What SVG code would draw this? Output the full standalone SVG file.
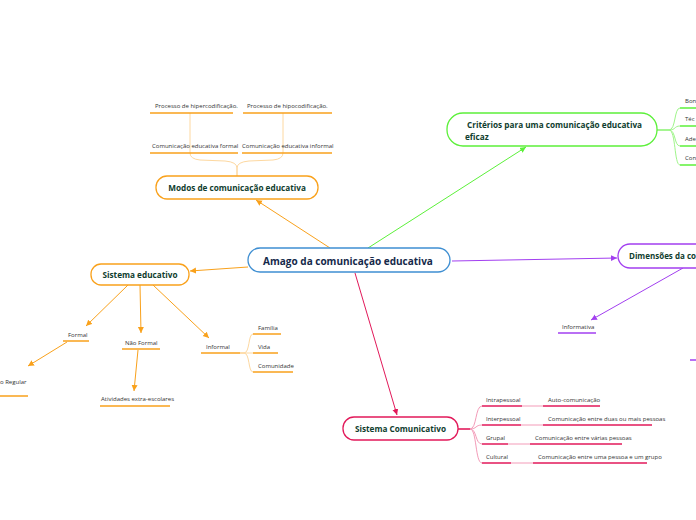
<svg xmlns="http://www.w3.org/2000/svg" width="696" height="520" viewBox="0 0 696 520">
<defs>
<style>
.t{font-family:"Open Sans","Noto Sans","DejaVu Sans",sans-serif;font-size:6px;fill:#333}
.n{font-family:"Open Sans","Noto Sans","DejaVu Sans",sans-serif;font-size:8.2px;font-weight:bold;fill:#0f3d2e}
.c{font-family:"Open Sans","Noto Sans","DejaVu Sans",sans-serif;font-size:10px;font-weight:bold;fill:#15294a}
.or{stroke:#f9a11b;fill:none}
.lo{stroke:#fdd8a0;fill:none;stroke-width:1}
.gr{stroke:#5cf03a;fill:none}
.pu{stroke:#a23ff0;fill:none}
.cr{stroke:#e2195a;fill:none}
.pk{stroke:#f39bb8;fill:none;stroke-width:1}
.lg{stroke:#9ff58a;fill:none;stroke-width:1}
.box{fill:#fff;stroke-width:1.3}
</style>
<marker id="ao" markerWidth="8" markerHeight="8" refX="6" refY="3" orient="auto" markerUnits="userSpaceOnUse"><path d="M0,0 L6,3 L0,6 z" fill="#f9a11b"/></marker>
<marker id="ag" markerWidth="8" markerHeight="8" refX="6" refY="3" orient="auto" markerUnits="userSpaceOnUse"><path d="M0,0 L6,3 L0,6 z" fill="#5cf03a"/></marker>
<marker id="ap" markerWidth="8" markerHeight="8" refX="6" refY="3" orient="auto" markerUnits="userSpaceOnUse"><path d="M0,0 L6,3 L0,6 z" fill="#a23ff0"/></marker>
<marker id="ac" markerWidth="8" markerHeight="8" refX="6" refY="3" orient="auto" markerUnits="userSpaceOnUse"><path d="M0,0 L6,3 L0,6 z" fill="#e2195a"/></marker>
</defs>
<rect width="696" height="520" fill="#fff"/>
<g id="connectors">
<path class="or" d="M330,248 L256,200" marker-end="url(#ao)"/>
<path class="gr" d="M368,248 L526,147" marker-end="url(#ag)"/>
<path class="pu" d="M452,261 L617,258" marker-end="url(#ap)"/>
<path class="pu" d="M683,268 L591,320" marker-end="url(#ap)"/>
<path class="or" d="M248,267 L190,271" marker-end="url(#ao)"/>
<path class="cr" d="M355,273 L397,415" marker-end="url(#ac)"/>
<path class="or" d="M128,285 L86,326" marker-end="url(#ao)"/>
<path class="or" d="M140,285 L141,333" marker-end="url(#ao)"/>
<path class="or" d="M153,285 L209,338" marker-end="url(#ao)"/>
<path class="or" d="M67,342 L28,366" marker-end="url(#ao)"/>
<path class="or" d="M138,350 L134,391" marker-end="url(#ao)"/>
<path class="lo" d="M237,176 L237,168 Q237,162 225,161 L200,160 Q190,159 190,153"/>
<path class="lo" d="M237,176 L237,168 Q237,162 249,161 L273,160 Q283,159 283,153"/>
<path class="lo" d="M190,153 L190,113"/>
<path class="lo" d="M283,153 L283,113"/>
<path class="lo" d="M240,353 L244,353 C250,353 248,334 253,334"/>
<path class="lo" d="M240,353 L253,353"/>
<path class="lo" d="M240,353 L244,353 C250,353 248,372 253,372"/>
<path class="lg" d="M657,130 L669,130 C676,130 674,108 680,108"/>
<path class="lg" d="M657,130 L669,130 C676,130 674,126 680,126"/>
<path class="lg" d="M657,130 L669,130 C676,130 674,146 680,146"/>
<path class="lg" d="M657,130 L669,130 C676,130 674,165 680,165"/>
<path class="pk" d="M458,429 L470,429 C477,429 475,406 482,406"/>
<path class="pk" d="M458,429 L470,429 C477,429 475,425 482,425"/>
<path class="pk" d="M458,429 L470,429 C477,429 475,444 482,444"/>
<path class="pk" d="M458,429 L470,429 C477,429 475,463 482,463"/>
<path class="cr" d="M458,429 L470,429" stroke-width="1.3"/>
<path class="pk" d="M522,406 L543,406"/>
<path class="pk" d="M521,425 L543,425"/>
<path class="pk" d="M508,444 L530,444"/>
<path class="pk" d="M511,463 L533,463"/>
</g>
<g id="central">
<rect class="box" x="248" y="248" width="202" height="24" rx="12" stroke="#3f8fd2"/>
<text class="c" x="348" y="264.5" text-anchor="middle">Amago da comunicação educativa</text>
</g>
<g id="modos">
<rect class="box" x="156" y="176" width="162" height="23" rx="11" stroke="#f9a11b"/>
<text class="n" x="237" y="191" text-anchor="middle">Modos de comunicação educativa</text>
</g>
<g id="modos-formal">
<text class="t" x="152" y="148">Comunicação educativa formal</text>
<path class="or" d="M150,153 H238" stroke-width="1.5"/>
</g>
<g id="modos-informal">
<text class="t" x="242" y="148">Comunicação educativa informal</text>
<path class="or" d="M242,153 H332" stroke-width="1.5"/>
</g>
<g id="hiper">
<text class="t" x="155" y="108">Processo de hipercodificação.</text>
<path class="or" d="M150,113 H233" stroke-width="1.5"/>
</g>
<g id="hipo">
<text class="t" x="247" y="108">Processo de hipocodificação.</text>
<path class="or" d="M243,113 H332" stroke-width="1.5"/>
</g>
<g id="criterios">
<rect class="box" x="447" y="113" width="210" height="33" rx="16" stroke="#5cf03a"/>
<text class="n" x="467" y="127.5">Critérios para uma comunicação educativa</text>
<text class="n" x="465" y="139.5">eficaz</text>
</g>
<g id="crit-1"><text class="t" x="685" y="103">Bon</text><path class="gr" d="M680,108 H696" stroke-width="1.5"/></g>
<g id="crit-2"><text class="t" x="685" y="121">Téc</text><path class="gr" d="M680,126 H696" stroke-width="1.5"/></g>
<g id="crit-3"><text class="t" x="685" y="141">Ade</text><path class="gr" d="M680,146 H696" stroke-width="1.5"/></g>
<g id="crit-4"><text class="t" x="685" y="160">Con</text><path class="gr" d="M680,165 H696" stroke-width="1.5"/></g>
<g id="dimensoes">
<rect class="box" x="618" y="244" width="100" height="24" rx="12" stroke="#a23ff0"/>
<text class="n" x="629" y="259" font-size="8px" style="font-size:8px">Dimensões da co</text>
</g>
<g id="informativa">
<text class="t" x="562" y="329">Informativa</text>
<path class="pu" d="M558,333 H596" stroke-width="1.5"/>
</g>
<g id="dim-2">
<path class="pu" d="M690,360 H696" stroke-width="1.5"/>
</g>
<g id="sistema-educativo">
<rect class="box" x="91" y="264" width="98" height="21" rx="10" stroke="#f9a11b"/>
<text class="n" x="140" y="278" text-anchor="middle">Sistema educativo</text>
</g>
<g id="formal"><text class="t" x="68" y="337">Formal</text><path class="or" d="M63,341 H89" stroke-width="1.5"/></g>
<g id="nao-formal"><text class="t" x="125" y="345">Não Formal</text><path class="or" d="M122,349 H160" stroke-width="1.5"/></g>
<g id="informal"><text class="t" x="206" y="349">Informal</text><path class="or" d="M201,353 H240" stroke-width="1.5"/></g>
<g id="regular"><text class="t" x="0" y="384">o Regular</text><path class="or" d="M0,396 H28" stroke-width="1.5"/></g>
<g id="atividades"><text class="t" x="101" y="401">Atividades extra-escolares</text><path class="or" d="M100,406 H170" stroke-width="1.5"/></g>
<g id="familia"><text class="t" x="258" y="330">Família</text><path class="or" d="M253,334 H281" stroke-width="1.5"/></g>
<g id="vida"><text class="t" x="258" y="349">Vida</text><path class="or" d="M253,353 H278" stroke-width="1.5"/></g>
<g id="comunidade"><text class="t" x="258" y="368">Comunidade</text><path class="or" d="M253,372 H293" stroke-width="1.5"/></g>
<g id="sistema-comunicativo">
<rect class="box" x="343" y="417" width="115" height="23" rx="11" stroke="#e2195a"/>
<text class="n" x="400.5" y="432" text-anchor="middle">Sistema Comunicativo</text>
</g>
<g id="intrapessoal"><text class="t" x="486" y="402">Intrapessoal</text><path class="cr" d="M482,406 H522" stroke-width="1.5"/></g>
<g id="interpessoal"><text class="t" x="486" y="421">Interpessoal</text><path class="cr" d="M482,425 H521" stroke-width="1.5"/></g>
<g id="grupal"><text class="t" x="486" y="440">Grupal</text><path class="cr" d="M482,444 H508" stroke-width="1.5"/></g>
<g id="cultural"><text class="t" x="486" y="459">Cultural</text><path class="cr" d="M482,463 H511" stroke-width="1.5"/></g>
<g id="auto"><text class="t" x="548" y="402">Auto-comunicação</text><path class="cr" d="M543,406 H600" stroke-width="1.5"/></g>
<g id="duas"><text class="t" x="548" y="421">Comunicação entre duas ou mais pessoas</text><path class="cr" d="M543,425 H652" stroke-width="1.5"/></g>
<g id="varias"><text class="t" x="535" y="440">Comunicação entre várias pessoas</text><path class="cr" d="M530,444 H622" stroke-width="1.5"/></g>
<g id="grupo"><text class="t" x="538" y="459">Comunicação entre uma pessoa e um grupo</text><path class="cr" d="M533,463 H647" stroke-width="1.5"/></g>
</svg>
